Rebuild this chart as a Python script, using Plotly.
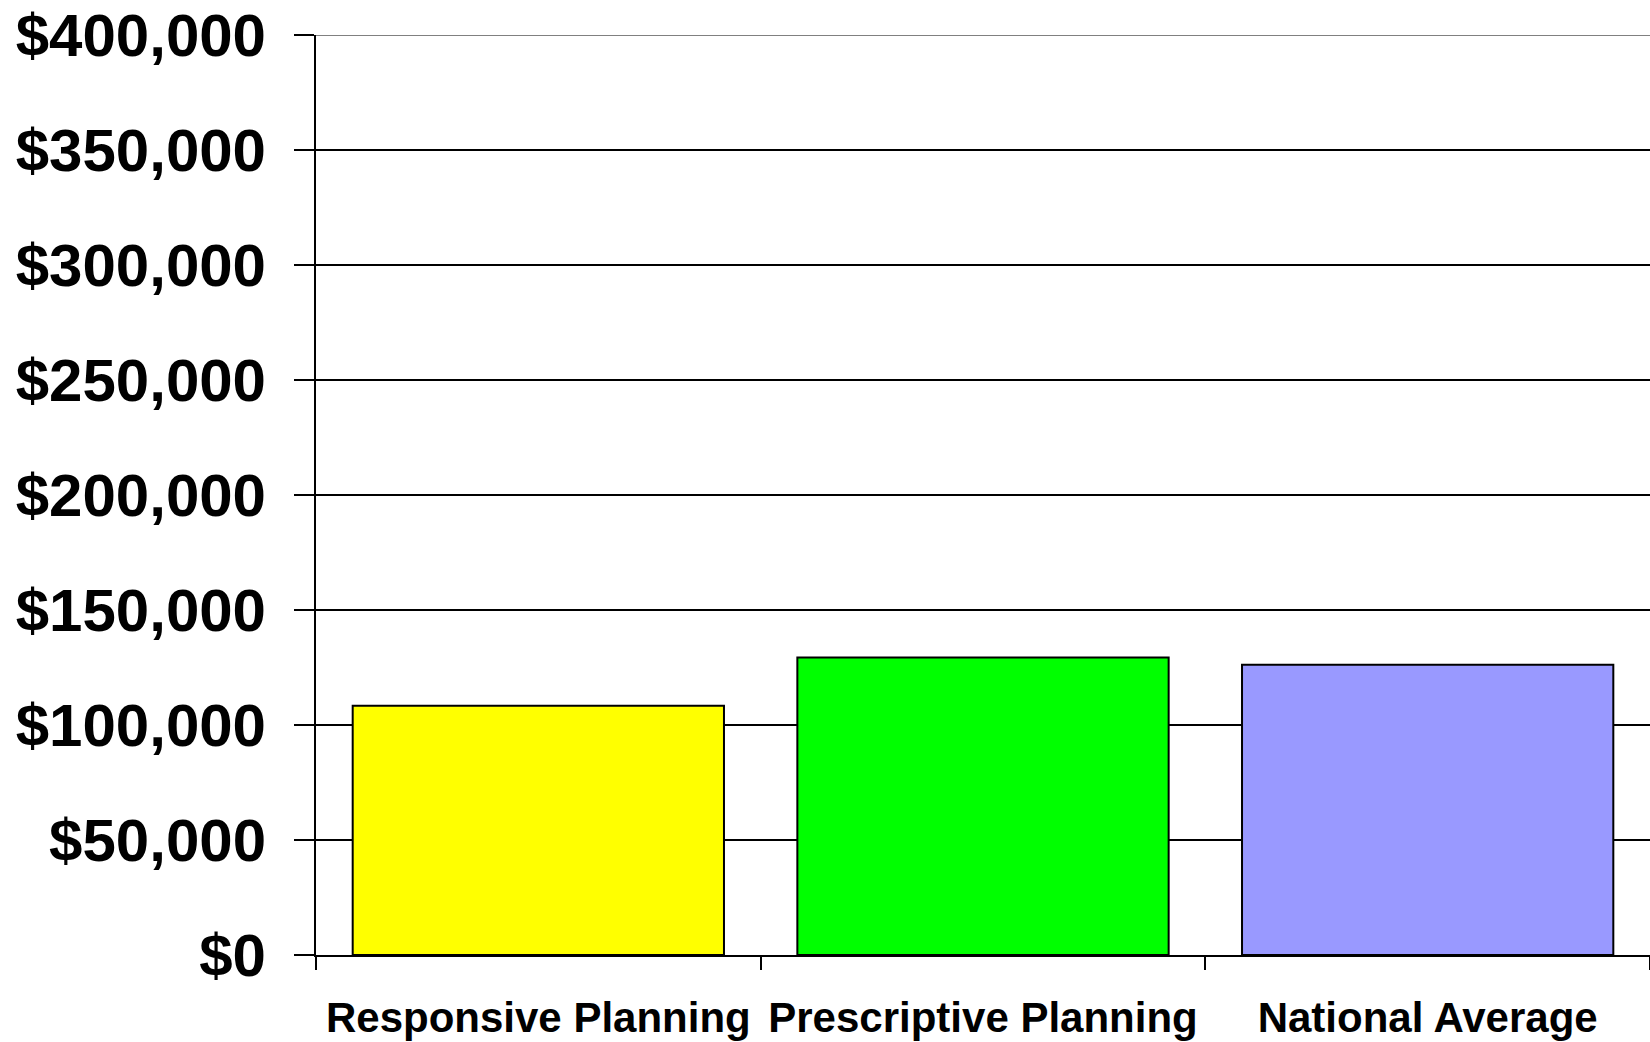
import plotly.graph_objects as go

categories = ["Responsive Planning", "Prescriptive Planning", "National Average"]
values = [108400, 129400, 126200]
colors = ["#FFFF00", "#00FF00", "#9999FF"]
y_ticks = [0, 50000, 100000, 150000, 200000, 250000, 300000, 350000, 400000]

FONT = "Liberation Sans, Arial, sans-serif"

fig = go.Figure(go.Bar(
    x=categories, y=values,
    marker=dict(color=colors, line=dict(color="black", width=2)),
    width=0.835,
))

fig.update_layout(
    width=1650, height=1042,
    margin=dict(l=316, r=0, t=35, b=87, pad=0),
    plot_bgcolor="white", paper_bgcolor="white",
    showlegend=False,
    font=dict(family=FONT, color="black"),
)

fig.update_yaxes(
    range=[0, 400000],
    tickvals=y_ticks,
    tickformat="$,.0f",
    tickfont=dict(family=FONT, size=60, color="black", weight="bold"),
    showgrid=True, gridcolor="black", gridwidth=2,
    zeroline=False,
    showline=True, linecolor="black", linewidth=2,
    ticks="outside", ticklen=20, tickwidth=2, tickcolor="black",
    ticklabelstandoff=16,
)

fig.update_xaxes(
    tickfont=dict(family=FONT, size=42, color="black", weight="bold"),
    showgrid=False,
    showline=True, linecolor="black", linewidth=2,
    ticks="outside", tickson="boundaries", ticklen=13, tickwidth=2, tickcolor="black",
    ticklabelstandoff=25,
)

fig.add_shape(type="line", xref="paper", yref="y", x0=0, x1=1, y0=400000, y1=400000,
              line=dict(color="#808080", width=2), layer="above")

fig.write_html("out.html")
